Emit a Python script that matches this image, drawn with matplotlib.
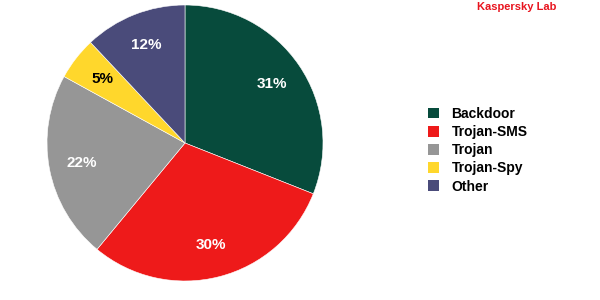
import matplotlib
matplotlib.use("Agg")
import matplotlib.pyplot as plt
from matplotlib.patches import Patch

# data
labels = ["Backdoor", "Trojan-SMS", "Trojan", "Trojan-Spy", "Other"]
shares = [31, 30, 22, 5, 12]
colors = ["#074B3C", "#EE1A1A", "#969696", "#FFD72C", "#4A4B7A"]
text_colors = ["white", "white", "white", "black", "white"]

plt.rcParams['font.family'] = ['Liberation Sans', 'DejaVu Sans']

fig = plt.figure(figsize=(6, 3), dpi=100)
ax = fig.add_axes([47/600, 19/300, 276/600, 276/300])

wedges, texts, autotexts = ax.pie(
    shares, colors=colors, startangle=90, counterclock=False,
    autopct="%d%%", pctdistance=0.76,
    wedgeprops=dict(edgecolor="white", linewidth=0.4))
for t, c in zip(autotexts, text_colors):
    t.set_color(c)
    t.set_fontsize(11)
    t.set_fontweight("bold")
ax.set_xlim(-1, 1)
ax.set_ylim(-1, 1)
ax.set_aspect("equal")

handles = [Patch(facecolor=c, edgecolor="none") for c in colors]
fig.legend(handles, labels, loc="upper left", bbox_to_anchor=(421/600, 1 - 100/300),
           frameon=False, prop=dict(weight="bold", size=10),
           handlelength=0.8, handleheight=0.8, handletextpad=0.9,
           labelspacing=0.3, borderpad=0)

fig.text(556/600, 1 - 7/300, "Kaspersky Lab", color="#E8141E", fontsize=8,
         fontweight="bold", ha="right", va="center")

fig.savefig("out.png", dpi=100, facecolor="white")
